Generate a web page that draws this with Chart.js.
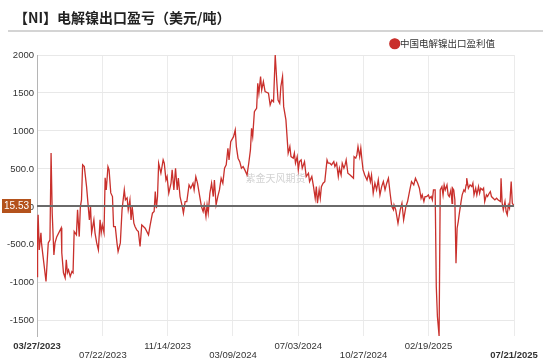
<!DOCTYPE html>
<html><head><meta charset="utf-8">
<script src="https://cdn.jsdelivr.net/npm/chart.js@4.4.0/dist/chart.umd.min.js"></script>
<style>
html,body{margin:0;padding:0;background:#fff;}
#wrap{position:relative;width:550px;height:361px;overflow:hidden;}
#title{position:absolute;left:14px;top:7px;font-family:"Noto Sans CJK SC","Noto Sans",sans-serif;font-weight:bold;font-size:14px;color:#222;white-space:nowrap;}
#rule{position:absolute;left:8px;top:30px;width:535px;height:2px;background:#d4d4d4;}
canvas{position:absolute;left:0;top:0;}
</style></head><body>
<div id="wrap"><canvas id="c" width="550" height="361"></canvas><div id="title">【NI】电解镍出口盈亏（美元/吨）</div><div id="rule"></div></div>
<script>
// day offsets from 03/27/2023
const days = [0,1,2,4,7,8,10,16,20,23,25,27,30,32,35,43,44,47,50,52,54,56,59,62,64,66,70,72,75,77,79,81,84,88,91,93,95,97,101,103,106,109,112,114,116,119,121,123,126,128,131,134,136,139,142,144,148,151,155,157,160,162,165,167,169,172,174,177,180,183,186,192,198,201,205,208,210,212,214,216,220,224,226,229,231,234,238,240,243,246,249,251,254,258,260,263,266,270,273,277,279,282,285,289,292,295,297,300,302,304,307,310,313,315,318,321,324,327,330,333,336,339,341,344,349,352,354,357,360,363,366,369,373,376,379,381,383,386,388,390,392,394,397,399,402,405,411,414,417,420,423,426,428,431,433,436,438,442,444,446,449,451,455,457,459,462,464,466,469,471,475,478,482,484,488,491,494,496,498,501,503,505,508,511,515,517,520,523,527,529,532,535,537,540,542,545,547,549,552,556,562,563,566,568,570,573,575,577,579,582,586,589,592,594,597,600,603,606,609,612,615,618,621,624,627,630,633,634,637,639,641,645,648,651,655,658,662,665,669,672,676,679,682,684,687,689,692,695,697,700,702,704,707,709,711,714,716,719,721,723,725,728,730,732,735,737,738,740,742,744,746,748,750,753,755,758,760,762,763,766,769,772,774,776,779,781,784,786,788,791,793,795,798,800,803,805,807,810,813,816,819,823,824,826,828,831,833,835,837,839,842,844,846,847];
const profit = [-917,-342,-105,-566,-342,-474,-605,-983,-474,-434,710,-79,-632,-474,-395,-276,-605,-868,-934,-697,-868,-829,-917,-851,-868,-325,-368,-39,-391,4,92,553,530,267,4,-171,4,-342,-171,-342,-474,-566,-171,-342,-237,-342,382,224,530,487,184,136,-259,-259,-474,-588,-474,-39,224,92,118,-39,92,-171,4,-215,-259,-303,-325,-522,-237,-281,-368,-237,-83,-61,202,-17,136,575,443,618,575,355,399,180,312,487,224,509,224,378,136,4,-83,70,70,290,246,312,224,399,312,136,4,-61,26,-127,26,-83,180,312,136,355,26,136,224,378,312,509,553,772,618,859,925,1013,794,641,596,509,530,487,421,575,750,1035,925,1254,1276,1298,1628,1496,1715,1540,1649,1517,1496,1342,1408,1386,2000,1628,1408,1364,1583,1715,1320,1145,925,707,794,662,641,707,575,662,487,596,618,509,596,399,443,333,399,267,114,267,48,224,114,267,312,333,618,575,575,553,596,530,575,399,509,421,575,509,553,618,443,421,378,662,641,684,794,662,772,618,487,421,355,443,333,421,180,312,224,355,158,267,333,224,312,378,180,4,-39,26,-39,-127,-215,-39,48,-171,4,70,224,333,290,378,312,246,114,158,70,136,136,158,114,136,92,224,224,-1049,-1444,-1700,224,267,158,290,224,290,158,136,224,48,246,224,92,-741,-281,-193,-83,70,158,224,202,290,378,246,290,267,312,158,246,158,267,180,246,224,246,70,158,136,180,202,136,114,92,114,92,70,378,48,-39,70,-61,-105,26,-17,333,48,26,15.53];
const tickDays = [0,117,232,348,464,580,695,847];
const tickLabels = ['03/27/2023','07/22/2023','11/14/2023','03/09/2024','07/03/2024','10/27/2024','02/19/2025','07/21/2025'];
const yTicks = [-1500,-1000,-500,0,500,1000,1500,2000];
const seriesName = '中国电解镍出口盈利值';
const watermark = '紫金天风期货';

const points = days.map((d,i)=>({x:d,y:profit[i]}));
const lastVal = profit[profit.length-1];

const extras = {
  id:'extras',
  beforeDatasetsDraw(chart){
    const {ctx, chartArea:a} = chart;
    ctx.save();
    ctx.font = '10px "Noto Sans CJK SC", sans-serif';
    ctx.fillStyle = 'rgba(180,180,180,0.6)';
    ctx.textAlign = 'center'; ctx.textBaseline = 'middle';
    ctx.fillText(watermark, (a.left+a.right)/2, 178);
    ctx.restore();
  },
  afterDatasetsDraw(chart){
    const {ctx, chartArea:a, scales:{y}} = chart;
    const py = Math.round(y.getPixelForValue(lastVal));
    ctx.save();
    ctx.strokeStyle = '#6a6a6a'; ctx.lineWidth = 2;
    ctx.beginPath(); ctx.moveTo(a.left, py); ctx.lineTo(a.right, py); ctx.stroke();
    ctx.restore();
  },
  afterDraw(chart){
    const {ctx, scales:{y}} = chart;
    const py = Math.round(y.getPixelForValue(lastVal));
    ctx.save();
    ctx.font = '10px "Liberation Sans", Arial, sans-serif';
    const txt = lastVal.toFixed(2);
    const w = ctx.measureText(txt).width + 4;
    ctx.fillStyle = '#b4521c';
    ctx.fillRect(2, py-7, w, 14);
    ctx.fillStyle = '#fff'; ctx.textBaseline='middle'; ctx.textAlign='left';
    ctx.fillText(txt, 4, py);
    ctx.restore();
  }
};

new Chart(document.getElementById('c'), {
  type:'line',
  data:{datasets:[{label:seriesName,data:points,borderColor:'#c9302c',backgroundColor:'#c9302c',borderWidth:1.3,pointRadius:0,tension:0}]},
  options:{
    responsive:false, animation:false,
    layout:{padding:{top:20,right:36,left:0,bottom:0}},
    plugins:{
      legend:{position:'top',align:'end',maxHeight:35,
        labels:{usePointStyle:true,pointStyle:'circle',boxWidth:1,boxHeight:7,padding:19,color:'#333',
          font:{size:9.5,family:'"Noto Sans CJK SC", sans-serif'}}},
      tooltip:{enabled:false}
    },
    scales:{
      x:{type:'linear',min:0,max:847,
        afterBuildTicks:(s)=>{s.ticks = tickDays.map(v=>({value:v}));},
        afterFit:(s)=>{s.height = 25;},
        border:{display:false},
        grid:{color:'#ebebeb',drawTicks:false},
        ticks:{autoSkip:false,maxRotation:0,padding:6,color:'#333',
          font:(c)=>({size:9.5,family:'"Liberation Sans", Arial, sans-serif',lineHeight:0.97,weight:(c.index===0||c.index===tickDays.length-1)?'bold':'normal'}),
          callback:(v,i)=> i%2===1 ? ['',tickLabels[i]] : tickLabels[i]}
      },
      y:{min:-1700,max:2000,
        afterBuildTicks:(s)=>{s.ticks = yTicks.map(v=>({value:v}));},
        afterFit:(s)=>{s.width = 37;},
        border:{display:true,color:'#b5b5b5',width:1},
        grid:{color:'#e8e8e8',drawTicks:false},
        ticks:{padding:3,color:'#333',font:{size:9.5,family:'"Liberation Sans", Arial, sans-serif'},
          callback:(v)=>Number(v).toPrecision(4)}
      }
    }
  },
  plugins:[extras]
});
</script>
</body></html>
